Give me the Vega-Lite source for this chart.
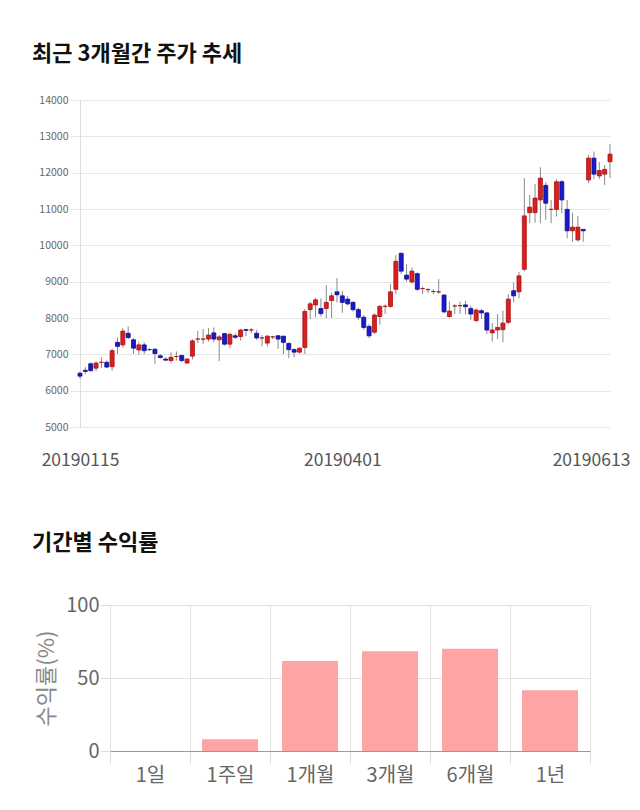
{
  "$schema": "https://vega.github.io/schema/vega-lite/v6.json",
  "padding": {"left": 32, "top": 43, "right": 0, "bottom": 0},
  "background": "white",
  "bounds": "flush",
  "spacing": 178,
  "config": {"font": "Noto Sans CJK KR", "view": {"stroke": null}},
  "vconcat": [
    {
      "title": {"text": "최근 3개월간 주가 추세", "anchor": "start", "frame": "group", "dx": -48, "fontSize": 22, "fontWeight": "bold", "color": "#111111", "offset": 29},
      "width": 530,
      "height": 327,
      "data": {"values": [
        {"date":"20190115","open":6480,"high":6530,"low":6330,"close":6400},
        {"date":"20190116","open":6560,"high":6650,"low":6460,"close":6530},
        {"date":"20190117","open":6740,"high":6780,"low":6530,"close":6550},
        {"date":"20190118","open":6620,"high":6800,"low":6530,"close":6760},
        {"date":"20190121","open":6780,"high":6920,"low":6620,"close":6780},
        {"date":"20190122","open":6780,"high":6830,"low":6620,"close":6650},
        {"date":"20190123","open":6660,"high":7150,"low":6550,"close":7100},
        {"date":"20190124","open":7330,"high":7460,"low":7010,"close":7220},
        {"date":"20190125","open":7260,"high":7720,"low":7190,"close":7640},
        {"date":"20190128","open":7580,"high":7770,"low":7420,"close":7460},
        {"date":"20190129","open":7400,"high":7450,"low":7010,"close":7170},
        {"date":"20190130","open":7120,"high":7350,"low":6990,"close":7260},
        {"date":"20190131","open":7260,"high":7330,"low":7010,"close":7100},
        {"date":"20190207","open":7130,"high":7170,"low":7090,"close":7130},
        {"date":"20190208","open":7140,"high":7170,"low":6730,"close":7020},
        {"date":"20190211","open":6960,"high":7010,"low":6890,"close":6910},
        {"date":"20190212","open":6870,"high":6920,"low":6820,"close":6840},
        {"date":"20190213","open":6830,"high":7060,"low":6760,"close":6920},
        {"date":"20190214","open":6940,"high":7080,"low":6830,"close":6940},
        {"date":"20190215","open":6970,"high":6980,"low":6780,"close":6830},
        {"date":"20190218","open":6760,"high":6890,"low":6740,"close":6870},
        {"date":"20190219","open":6950,"high":7420,"low":6860,"close":7370},
        {"date":"20190220","open":7420,"high":7650,"low":7310,"close":7420},
        {"date":"20190221","open":7420,"high":7700,"low":7290,"close":7420},
        {"date":"20190222","open":7420,"high":7720,"low":7350,"close":7530},
        {"date":"20190225","open":7590,"high":7740,"low":7330,"close":7420},
        {"date":"20190226","open":7400,"high":7530,"low":6810,"close":7480},
        {"date":"20190227","open":7570,"high":7590,"low":7240,"close":7280},
        {"date":"20190228","open":7280,"high":7590,"low":7170,"close":7550},
        {"date":"20190304","open":7510,"high":7580,"low":7420,"close":7470},
        {"date":"20190305","open":7490,"high":7700,"low":7380,"close":7670},
        {"date":"20190306","open":7680,"high":7700,"low":7500,"close":7660},
        {"date":"20190307","open":7670,"high":7720,"low":7580,"close":7670},
        {"date":"20190308","open":7580,"high":7680,"low":7400,"close":7450},
        {"date":"20190311","open":7450,"high":7530,"low":7220,"close":7450},
        {"date":"20190312","open":7310,"high":7530,"low":7220,"close":7500},
        {"date":"20190313","open":7480,"high":7510,"low":7420,"close":7480},
        {"date":"20190314","open":7510,"high":7530,"low":7150,"close":7420},
        {"date":"20190315","open":7500,"high":7510,"low":7010,"close":7330},
        {"date":"20190318","open":7300,"high":7330,"low":6900,"close":7130},
        {"date":"20190319","open":7130,"high":7170,"low":6920,"close":7060},
        {"date":"20190320","open":7060,"high":7190,"low":7010,"close":7170},
        {"date":"20190321","open":7190,"high":8250,"low":7010,"close":8180},
        {"date":"20190322","open":8230,"high":8450,"low":7970,"close":8390},
        {"date":"20190325","open":8360,"high":8560,"low":8020,"close":8500},
        {"date":"20190326","open":8260,"high":8540,"low":8040,"close":8120},
        {"date":"20190327","open":8260,"high":8900,"low":8000,"close":8430},
        {"date":"20190328","open":8480,"high":8700,"low":8000,"close":8610},
        {"date":"20190329","open":8720,"high":9100,"low":8430,"close":8640},
        {"date":"20190401","open":8610,"high":8750,"low":8140,"close":8430},
        {"date":"20190402","open":8520,"high":8610,"low":8340,"close":8390},
        {"date":"20190403","open":8430,"high":8460,"low":8180,"close":8230},
        {"date":"20190404","open":8230,"high":8290,"low":7950,"close":8020},
        {"date":"20190405","open":8020,"high":8080,"low":7680,"close":7740},
        {"date":"20190408","open":7770,"high":7830,"low":7440,"close":7510},
        {"date":"20190409","open":7610,"high":8130,"low":7560,"close":8080},
        {"date":"20190410","open":8040,"high":8360,"low":7810,"close":8320},
        {"date":"20190411","open":8320,"high":8380,"low":8110,"close":8320},
        {"date":"20190412","open":8320,"high":8930,"low":8280,"close":8720},
        {"date":"20190415","open":8790,"high":9730,"low":8660,"close":9560},
        {"date":"20190416","open":9780,"high":9800,"low":9210,"close":9290},
        {"date":"20190417","open":9180,"high":9480,"low":9000,"close":9070},
        {"date":"20190418","open":8990,"high":9390,"low":8950,"close":9290},
        {"date":"20190419","open":9220,"high":9250,"low":8740,"close":8790},
        {"date":"20190422","open":8810,"high":8870,"low":8660,"close":8810},
        {"date":"20190423","open":8780,"high":8820,"low":8680,"close":8780},
        {"date":"20190424","open":8730,"high":8790,"low":8660,"close":8730},
        {"date":"20190425","open":8720,"high":9070,"low":8660,"close":8720},
        {"date":"20190426","open":8630,"high":8660,"low":8130,"close":8170},
        {"date":"20190429","open":8040,"high":8450,"low":8010,"close":8190},
        {"date":"20190430","open":8330,"high":8380,"low":8110,"close":8330},
        {"date":"20190502","open":8340,"high":8450,"low":8110,"close":8340},
        {"date":"20190503","open":8360,"high":8470,"low":8100,"close":8310},
        {"date":"20190507","open":8260,"high":8340,"low":7950,"close":8110},
        {"date":"20190508","open":7930,"high":8260,"low":7880,"close":8220},
        {"date":"20190509","open":8200,"high":8250,"low":7970,"close":8140},
        {"date":"20190510","open":8140,"high":8170,"low":7560,"close":7670},
        {"date":"20190513","open":7590,"high":7860,"low":7350,"close":7670},
        {"date":"20190514","open":7670,"high":8110,"low":7420,"close":7740},
        {"date":"20190515","open":7680,"high":8200,"low":7330,"close":7860},
        {"date":"20190516","open":7880,"high":8660,"low":7830,"close":8520},
        {"date":"20190517","open":8750,"high":8980,"low":8430,"close":8610},
        {"date":"20190520","open":8720,"high":9270,"low":8540,"close":9160},
        {"date":"20190521","open":9340,"high":11850,"low":9280,"close":10810},
        {"date":"20190522","open":10900,"high":11390,"low":10610,"close":11050},
        {"date":"20190523","open":10900,"high":11690,"low":10620,"close":11300},
        {"date":"20190524","open":11250,"high":12150,"low":10610,"close":11850},
        {"date":"20190527","open":11650,"high":11740,"low":10700,"close":11160},
        {"date":"20190528","open":10990,"high":11250,"low":10610,"close":10990},
        {"date":"20190529","open":10990,"high":11820,"low":10790,"close":11750},
        {"date":"20190530","open":11750,"high":11800,"low":10880,"close":11250},
        {"date":"20190531","open":10990,"high":11250,"low":10190,"close":10400},
        {"date":"20190603","open":10400,"high":10900,"low":10100,"close":10500},
        {"date":"20190604","open":10150,"high":10810,"low":10100,"close":10500},
        {"date":"20190605","open":10440,"high":10440,"low":10100,"close":10400},
        {"date":"20190607","open":11800,"high":12490,"low":11710,"close":12400},
        {"date":"20190610","open":12400,"high":12580,"low":11820,"close":11960},
        {"date":"20190611","open":11910,"high":12300,"low":11820,"close":12060},
        {"date":"20190612","open":11960,"high":12210,"low":11660,"close":12090},
        {"date":"20190613","open":12300,"high":12790,"low":11850,"close":12510}
      ]},
      "encoding": {
        "x": {
          "field": "date", "type": "ordinal",
          "scale": {"type": "point", "padding": 0},
          "axis": {
            "values": ["20190115", "20190401", "20190613"],
            "title": null, "ticks": false, "domain": false, "grid": false,
            "labelAngle": 0, "labelFontSize": 17.5, "labelColor": "#555555", "labelPadding": 24,
            "labelOffset": {"condition": {"test": "datum.value == '20190613'", "value": -19}, "value": 0}
          }
        }
      },
      "layer": [
        {
          "mark": {"type": "rule", "color": "#8a8a8a", "strokeWidth": 1},
          "encoding": {
            "y": {"field": "low", "type": "quantitative", "scale": {"domain": [5000, 14000], "nice": false},
              "axis": {"values": [5000,6000,7000,8000,9000,10000,11000,12000,13000,14000], "tickCount": 10, "format": "d", "title": null,
                "labelOverlap": false,
                "labelFontSize": 10.5, "labelColor": "#666666", "labelPadding": 2, "tickSize": 10, "tickColor": "#e6e6e6",
                "gridColor": "#e6e6e6", "domainColor": "#dddddd"}},
            "y2": {"field": "high"}
          }
        },
        {
          "mark": {"type": "bar", "size": 4, "strokeWidth": 0.8},
          "encoding": {
            "y": {"field": "open", "type": "quantitative",
              "axis": {"values": [5000,6000,7000,8000,9000,10000,11000,12000,13000,14000], "tickCount": 10, "format": "d", "title": null,
                "labelOverlap": false,
                "labelFontSize": 10.5, "labelColor": "#666666", "labelPadding": 2, "tickSize": 10, "tickColor": "#e6e6e6",
                "gridColor": "#e6e6e6", "domainColor": "#dddddd"}},
            "y2": {"field": "close"},
            "color": {"condition": {"test": "datum.close >= datum.open", "value": "#d82020"}, "value": "#1a1ac8"},
            "stroke": {"condition": {"test": "datum.close >= datum.open", "value": "#a81010"}, "value": "#0c0c90"}
          }
        }
      ]
    },
    {
      "title": {"text": "기간별 수익률", "anchor": "start", "frame": "group", "dx": -48, "fontSize": 22, "fontWeight": "bold", "color": "#111111", "offset": 40},
      "width": 510,
      "height": 146,
      "data": {"values": [
        {"period": "1일", "value": 0},
        {"period": "1주일", "value": 8.0},
        {"period": "1개월", "value": 61.6},
        {"period": "3개월", "value": 68.3},
        {"period": "6개월", "value": 70.1},
        {"period": "1년", "value": 41.6}
      ]},
      "mark": {"type": "bar", "color": "#ffa4a4", "width": {"band": 0.7}},
      "encoding": {
        "x": {
          "field": "period", "type": "nominal", "sort": null,
          "scale": {"range": [30, 510], "paddingInner": 0, "paddingOuter": 0},
          "axis": {"title": null, "labelAngle": 0, "labelFontSize": 20, "labelColor": "#666666", "labelPadding": 2,
            "tickBand": "extent", "tickSize": 12, "tickColor": "#dddddd", "grid": true, "gridColor": "#e3e3e3",
            "domainColor": "#999999"}
        },
        "y": {
          "field": "value", "type": "quantitative", "scale": {"domain": [0, 100]},
          "axis": {"values": [0, 50, 100], "title": "수익률(%)", "offset": -30, "titleFontSize": 22, "titleFontWeight": "normal",
            "titleColor": "#888888", "titlePadding": 7, "labelFontSize": 20, "labelColor": "#666666", "labelPadding": 1,
            "tickSize": 10, "tickColor": "#dddddd", "gridColor": "#e3e3e3", "domain": false}
        }
      }
    }
  ]
}
